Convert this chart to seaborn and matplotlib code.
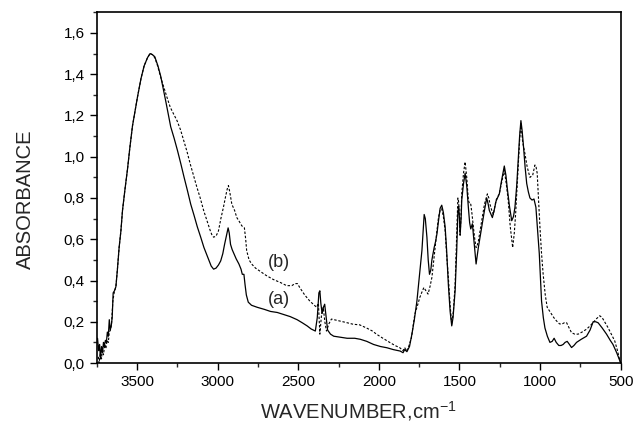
import numpy as np
import pandas as pd
import matplotlib
matplotlib.use("Agg")
import matplotlib.pyplot as plt
from matplotlib.ticker import MultipleLocator, FuncFormatter
import seaborn as sns

# ---- data: spectrum (a), solid ----
wn_a = [3745, 3738, 3732, 3727, 3720, 3714, 3708, 3703, 3696, 3690, 3684, 3678, 3672, 3666, 3660,
        3654, 3648, 3640, 3631, 3622, 3611, 3600, 3590, 3575, 3559, 3545, 3528, 3510, 3497, 3475,
        3456, 3435, 3419, 3405, 3390, 3370, 3353, 3335, 3322, 3305, 3291, 3270, 3249, 3228, 3208,
        3187, 3167, 3146, 3126, 3105, 3085, 3060, 3040, 3025, 3010, 2995, 2981, 2968, 2957, 2945,
        2935, 2928, 2920, 2910, 2899, 2885, 2868, 2855, 2847, 2837, 2830, 2822, 2810, 2790, 2754,
        2710, 2672, 2630, 2590, 2550, 2507, 2475, 2445, 2420, 2394, 2382, 2372, 2366, 2360, 2352,
        2344, 2336, 2328, 2318, 2300, 2280, 2240, 2197, 2150, 2115, 2075, 2033, 1990, 1950, 1910,
        1868, 1850, 1840, 1826, 1810, 1795, 1780, 1764, 1750, 1733, 1725, 1719, 1712, 1702, 1694,
        1686, 1678, 1671, 1664, 1657, 1648, 1640, 1630, 1620, 1610, 1600, 1589, 1580, 1569, 1558,
        1548, 1540, 1527, 1517, 1510, 1505, 1500, 1496, 1490, 1486, 1475, 1465, 1455, 1445, 1437,
        1430, 1420, 1410, 1397, 1383, 1362, 1345, 1331, 1322, 1315, 1296, 1285, 1273, 1253, 1240,
        1222, 1212, 1204, 1190, 1176, 1165, 1156, 1145, 1136, 1127, 1119, 1112, 1104, 1093, 1083,
        1073, 1063, 1050, 1038, 1026, 1015, 1005, 998, 991, 980, 970, 955, 939, 925, 913,
        900, 884, 870, 857, 845, 832, 818, 805, 790, 774, 745, 712, 690, 671, 655,
        640, 615, 588, 565, 548, 525, 510, 500]
abs_a = [0.12, 0.06, 0.09, 0.02, 0.08, 0.05, 0.10, 0.08, 0.11, 0.10, 0.15, 0.13, 0.21, 0.16, 0.18,
         0.22, 0.34, 0.35, 0.37, 0.45, 0.56, 0.64, 0.74, 0.84, 0.94, 1.04, 1.15, 1.23, 1.29, 1.38,
         1.44, 1.48, 1.50, 1.495, 1.485, 1.44, 1.39, 1.32, 1.27, 1.20, 1.145, 1.09, 1.03, 0.965, 0.90,
         0.835, 0.77, 0.715, 0.66, 0.61, 0.56, 0.51, 0.47, 0.455, 0.46, 0.475, 0.495, 0.53, 0.575, 0.62,
         0.655, 0.63, 0.575, 0.55, 0.53, 0.505, 0.48, 0.455, 0.43, 0.43, 0.38, 0.33, 0.295, 0.28, 0.27,
         0.26, 0.25, 0.245, 0.235, 0.225, 0.21, 0.195, 0.18, 0.165, 0.155, 0.22, 0.34, 0.35, 0.29, 0.24,
         0.27, 0.285, 0.23, 0.16, 0.14, 0.13, 0.125, 0.12, 0.12, 0.115, 0.105, 0.09, 0.08, 0.074, 0.065,
         0.058, 0.05, 0.065, 0.055, 0.08, 0.14, 0.21, 0.30, 0.41, 0.545, 0.65, 0.72, 0.70, 0.61, 0.50,
         0.43, 0.45, 0.50, 0.53, 0.56, 0.59, 0.625, 0.69, 0.75, 0.765, 0.73, 0.66, 0.55, 0.38, 0.25,
         0.18, 0.22, 0.35, 0.55, 0.73, 0.76, 0.70, 0.62, 0.70, 0.79, 0.87, 0.92, 0.86, 0.755, 0.68,
         0.65, 0.675, 0.59, 0.48, 0.56, 0.66, 0.74, 0.80, 0.77, 0.74, 0.705, 0.74, 0.785, 0.82, 0.88,
         0.955, 0.91, 0.85, 0.76, 0.69, 0.71, 0.755, 0.86, 0.98, 1.10, 1.175, 1.13, 1.06, 0.95, 0.87,
         0.83, 0.80, 0.79, 0.795, 0.755, 0.64, 0.53, 0.42, 0.30, 0.22, 0.17, 0.13, 0.10, 0.105, 0.12,
         0.10, 0.085, 0.085, 0.09, 0.10, 0.105, 0.09, 0.075, 0.085, 0.10, 0.115, 0.13, 0.16, 0.20, 0.20,
         0.195, 0.17, 0.14, 0.11, 0.09, 0.05, 0.02, 0.0]

# ---- data: spectrum (b), dashed ----
wn_b = [3740, 3735, 3728, 3720, 3716, 3708, 3700, 3693, 3686, 3678, 3672, 3665, 3658, 3650, 3642,
        3631, 3622, 3611, 3600, 3590, 3575, 3559, 3545, 3528, 3510, 3497, 3475, 3456, 3435, 3419,
        3405, 3390, 3376, 3355, 3335, 3315, 3294, 3275, 3252, 3230, 3211, 3190, 3170, 3150, 3129,
        3108, 3087, 3066, 3046, 3035, 3025, 3010, 2995, 2980, 2964, 2950, 2940, 2933, 2925, 2912,
        2895, 2881, 2865, 2850, 2834, 2826, 2820, 2805, 2789, 2765, 2737, 2700, 2655, 2610, 2572,
        2540, 2520, 2505, 2490, 2460, 2428, 2400, 2386, 2375, 2366, 2355, 2345, 2335, 2325, 2310,
        2294, 2250, 2201, 2160, 2119, 2077, 2040, 2015, 1975, 1933, 1900, 1870, 1850, 1840, 1829,
        1815, 1798, 1777, 1760, 1746, 1735, 1721, 1708, 1695, 1683, 1671, 1661, 1651, 1640, 1630,
        1620, 1610, 1600, 1589, 1580, 1569, 1558, 1548, 1538, 1527, 1517, 1510, 1505, 1500, 1496,
        1490, 1486, 1475, 1465, 1455, 1445, 1437, 1430, 1422, 1414, 1405, 1397, 1390, 1383, 1370,
        1362, 1345, 1327, 1318, 1311, 1300, 1290, 1280, 1273, 1253, 1240, 1222, 1210, 1198, 1185,
        1170, 1160, 1152, 1144, 1136, 1127, 1119, 1108, 1094, 1080, 1063, 1046, 1032, 1025, 1018,
        1010, 1001, 991, 981, 968, 956, 940, 929, 915, 898, 880, 867, 850, 836, 820,
        805, 785, 764, 740, 712, 690, 671, 650, 630, 615, 600, 579, 558, 537, 520,
        510, 500]
abs_b = [0.03, 0.00, 0.05, 0.02, 0.06, 0.04, 0.09, 0.07, 0.11, 0.10, 0.15, 0.16, 0.19, 0.30, 0.34,
         0.37, 0.45, 0.56, 0.64, 0.74, 0.84, 0.94, 1.04, 1.15, 1.23, 1.29, 1.38, 1.44, 1.48, 1.50,
         1.495, 1.48, 1.45, 1.39, 1.34, 1.29, 1.24, 1.21, 1.175, 1.13, 1.08, 1.025, 0.965, 0.91, 0.853,
         0.80, 0.74, 0.69, 0.642, 0.62, 0.61, 0.615, 0.64, 0.70, 0.755, 0.81, 0.845, 0.86, 0.83, 0.77,
         0.74, 0.705, 0.685, 0.665, 0.655, 0.60, 0.545, 0.50, 0.48, 0.46, 0.445, 0.425, 0.405, 0.39, 0.375,
         0.375, 0.385, 0.385, 0.365, 0.33, 0.30, 0.28, 0.27, 0.29, 0.14, 0.24, 0.27, 0.20, 0.155, 0.19,
         0.213, 0.205, 0.196, 0.188, 0.185, 0.17, 0.155, 0.14, 0.12, 0.10, 0.085, 0.074, 0.06, 0.075, 0.058,
         0.08, 0.123, 0.237, 0.28, 0.318, 0.34, 0.366, 0.35, 0.334, 0.37, 0.415, 0.49, 0.56, 0.64, 0.707,
         0.74, 0.748, 0.71, 0.642, 0.53, 0.415, 0.28, 0.188, 0.25, 0.383, 0.62, 0.80, 0.78, 0.70, 0.62,
         0.72, 0.82, 0.92, 0.975, 0.90, 0.79, 0.77, 0.77, 0.72, 0.66, 0.60, 0.56, 0.57, 0.59, 0.65,
         0.69, 0.77, 0.82, 0.80, 0.77, 0.74, 0.72, 0.76, 0.79, 0.82, 0.87, 0.935, 0.87, 0.79, 0.66,
         0.56, 0.63, 0.72, 0.84, 0.95, 1.08, 1.16, 1.07, 1.015, 0.95, 0.90, 0.91, 0.96, 0.95, 0.92,
         0.80, 0.66, 0.53, 0.43, 0.33, 0.27, 0.25, 0.237, 0.22, 0.204, 0.19, 0.188, 0.195, 0.196, 0.17,
         0.147, 0.14, 0.14, 0.15, 0.164, 0.18, 0.196, 0.215, 0.229, 0.22, 0.20, 0.172, 0.14, 0.107, 0.06,
         0.026, 0.0]

x_major = [3500, 3000, 2500, 2000, 1500, 1000, 500]
y_major = [0.0, 0.2, 0.4, 0.6, 0.8, 1.0, 1.2, 1.4, 1.6]
labels = ["(a)", "(b)"]
label_pos_x = [2618, 2618]
label_pos_y = [0.306, 0.487]

df_a = pd.DataFrame({"wn": wn_a, "A": abs_a})
df_b = pd.DataFrame({"wn": wn_b, "A": abs_b})

sns.set_style("ticks")
plt.rcParams["font.family"] = ["Liberation Sans", "DejaVu Sans"]
plt.rcParams["mathtext.fontset"] = "custom"
plt.rcParams["mathtext.rm"] = "Liberation Sans"
plt.rcParams["mathtext.it"] = "Liberation Sans"

fig = plt.figure(figsize=(6.35, 4.29), dpi=100)
ax = fig.add_axes([0.1523, 0.1538, 0.8252, 0.8175])

sns.lineplot(data=df_a, x="wn", y="A", ax=ax, color="black", lw=0.9,
             sort=False, estimator=None)
sns.lineplot(data=df_b, x="wn", y="A", ax=ax, color="black", lw=0.8,
             linestyle=(0, (2.2, 1.6)), sort=False, estimator=None)

ax.set_xlim(3750, 500)
ax.set_ylim(0, 1.7)
ax.set_xticks(x_major)
ax.set_yticks(y_major)
ax.xaxis.set_minor_locator(MultipleLocator(250))
ax.yaxis.set_minor_locator(MultipleLocator(0.1))
ax.yaxis.set_major_formatter(FuncFormatter(lambda v, p: f"{v:.1f}".replace(".", ",")))
ax.xaxis.set_major_formatter(FuncFormatter(lambda v, p: f"{int(round(v))}"))

ax.tick_params(which="major", direction="out", length=5, width=1.0, labelsize=11,
               pad=3.5, colors="black", top=False, right=False)
ax.tick_params(which="minor", direction="out", length=2.6, width=1.0,
               top=False, right=False)
for s in ax.spines.values():
    s.set_visible(True)
    s.set_linewidth(1.2)
    s.set_color("black")

ax.set_xlabel("WAVENUMBER,cm$^{-1}$", fontsize=14.5)
ax.set_ylabel("ABSORBANCE", fontsize=14.5)
ax.xaxis.set_label_coords(0.5, -0.137)
ax.xaxis.label.set_verticalalignment("center")
ax.yaxis.set_label_coords(-0.136, 0.468)
ax.yaxis.label.set_verticalalignment("center")

for t, x, y in zip(labels, label_pos_x, label_pos_y):
    ax.text(x, y, t, fontsize=13, ha="center", va="center")

fig.savefig("out.png", dpi=100)
